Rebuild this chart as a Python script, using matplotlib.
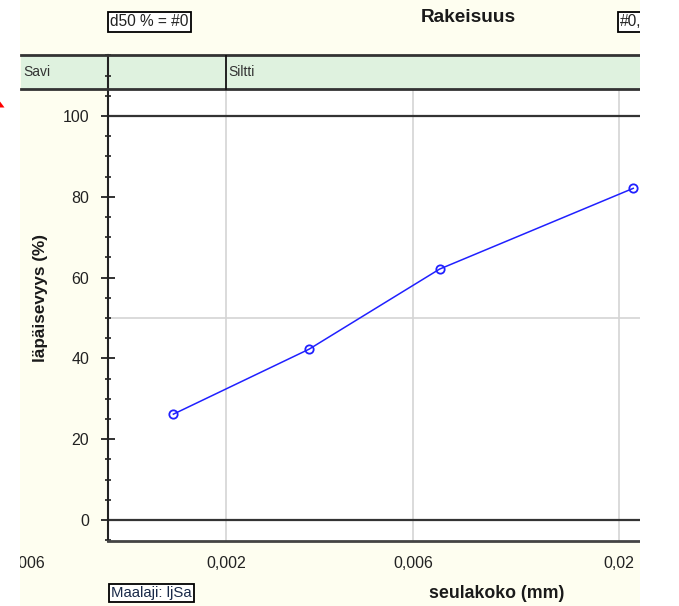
import matplotlib
matplotlib.use('Agg')
import matplotlib.pyplot as plt
from matplotlib.patches import Rectangle, Polygon
import matplotlib.ticker as mticker

plt.rcParams['font.family'] = ['Liberation Sans', 'DejaVu Sans']

# ---- data ----
grain_size_mm = [0.00147, 0.00326, 0.0070, 0.0218]
passing_pct = [26.2, 42.3, 62.1, 82.1]
x_tick_values = [0.0006, 0.002, 0.006, 0.02]
x_tick_labels = ['0,0006', '0,002', '0,006', '0,02']
y_tick_values = [0, 20, 40, 60, 80, 100]
fraction_names = ['Savi', 'Siltti']
fraction_starts = [0.0006, 0.002]

title_text = 'Rakeisuus'
x_label = 'seulakoko (mm)'
y_label = 'läpäisevyys (%)'
d50_text = 'd50 % = #0'
soil_text = 'Maalaji: ljSa'
right_box_text = '#0,00'

# ---- layout ----
W, H = 679, 606
fig = plt.figure(figsize=(W / 100, H / 100), dpi=100)
fig.patch.set_facecolor('white')

def fx(px):
    return px / W

def fy(py):
    return 1 - py / H

# cream background of the chart area
fig.add_artist(Rectangle((fx(20), 0), fx(620), 1, transform=fig.transFigure,
                         facecolor='#FEFEF0', edgecolor='none', zorder=-10))

xmin, xmax = 0.001, 0.02268
ymin, ymax = -5.2, 115.1
band_bottom, band_top = 106.6, 115.1

ax = fig.add_axes([fx(107.7), fy(541), fx(640) - fx(107.7), fy(55) - fy(541)])
ax.set_facecolor('white')
ax.set_xscale('log')
ax.set_xlim(xmin, xmax)
ax.set_ylim(ymin, ymax)

for s in ['right', 'top']:
    ax.spines[s].set_visible(False)
ax.spines['left'].set_color('#222222')
ax.spines['left'].set_linewidth(1.5)
ax.spines['bottom'].set_color('#444444')
ax.spines['bottom'].set_linewidth(2)

# x axis: no ticks, manual labels through the data transform
ax.xaxis.set_major_locator(mticker.NullLocator())
ax.xaxis.set_minor_locator(mticker.NullLocator())
for v, lab in zip(x_tick_values, x_tick_labels):
    ax.text(v, -0.031, lab, transform=ax.get_xaxis_transform(), ha='center', va='top',
            fontsize=11.5, color='#222222', clip_on=False)

# y axis ticks
ax.set_yticks(y_tick_values)
ax.yaxis.set_minor_locator(mticker.MultipleLocator(5))
ax.tick_params(axis='y', which='major', direction='inout', length=9.4, width=1.3,
               color='#222222', pad=8.7, labelsize=11.5, labelcolor='#222222')
ax.tick_params(axis='y', which='minor', direction='inout', length=5, width=1.2,
               color='#222222')

# grid lines
grid_x = [v for v in x_tick_values if xmin <= v <= xmax]
ax.vlines(grid_x, ymin, band_bottom, colors='#D4D4D4', linewidth=1.2, zorder=1)
ax.axhline(50, color='#D4D4D4', linewidth=1.2, zorder=1)
ax.axhline(0, color='#333333', linewidth=1.6, zorder=2)
ax.axhline(100, color='#333333', linewidth=1.6, zorder=2)

# fraction band
ax.add_patch(Rectangle((fraction_starts[0], band_bottom), xmax - fraction_starts[0],
                       band_top - band_bottom, facecolor='#DFF2DF', edgecolor='none',
                       clip_on=False, zorder=1))
ax.plot([fraction_starts[0], xmax], [band_top, band_top], color='#333333', lw=2, clip_on=False, zorder=3)
ax.plot([fraction_starts[0], xmax], [band_bottom, band_bottom], color='#333333', lw=2, clip_on=False, zorder=3)
for xs in fraction_starts[1:]:
    ax.plot([xs, xs], [band_bottom, band_top], color='#111111', lw=1.3, zorder=3)
for name, xs in zip(fraction_names, fraction_starts):
    ax.annotate(name, (xs, (band_bottom + band_top) / 2), xytext=(1.8, 0),
                textcoords='offset points', ha='left', va='center', fontsize=10,
                color='#333333', annotation_clip=False)

# data series
ax.plot(grain_size_mm, passing_pct, color='#2020FF', lw=1.1, marker='o',
        mfc='none', mec='#2020FF', ms=6, mew=1.3, zorder=5, clip_on=False)

# texts
fig.text(fx(468.5), fy(18), title_text, ha='center', va='center', fontsize=13.7,
         fontweight='bold', color='#1a1a1a')
fig.text(fx(496.5), fy(593), x_label, ha='center', va='center', fontsize=12.8,
         fontweight='bold', color='#1a1a1a')
fig.text(fx(40), fy(298), y_label, ha='center', va='center', rotation=90,
         fontsize=12.3, fontweight='bold', color='#1a1a1a')

box = dict(boxstyle='square,pad=0.15', facecolor='white', edgecolor='black', linewidth=1.3)
fig.text(fx(149.5), fy(22), d50_text, ha='center', va='center', fontsize=11.2,
         color='#222222', bbox=box)
fig.text(fx(151.5), fy(593), soil_text, ha='center', va='center', fontsize=10.8,
         color='#1a2a4a', bbox=dict(boxstyle='square,pad=0.12', facecolor='white',
                                   edgecolor='black', linewidth=1.3))
fig.text(fx(620), fy(22), right_box_text, ha='left', va='center', fontsize=11.2,
         color='#222222', bbox=box)

# white margins outside the captured chart
fig.add_artist(Rectangle((0, 0), fx(20), 1, transform=fig.transFigure,
                         facecolor='white', edgecolor='none', zorder=50))
fig.add_artist(Rectangle((fx(640), 0), 1 - fx(640), 1, transform=fig.transFigure,
                         facecolor='white', edgecolor='none', zorder=50))
fig.add_artist(Polygon([(0, fy(107.5)), (fx(4.5), fy(107.5)), (0, fy(101.5))],
                       closed=True, transform=fig.transFigure, facecolor='#FF0000',
                       edgecolor='none', zorder=60))

fig.savefig('out.png', dpi=100)
